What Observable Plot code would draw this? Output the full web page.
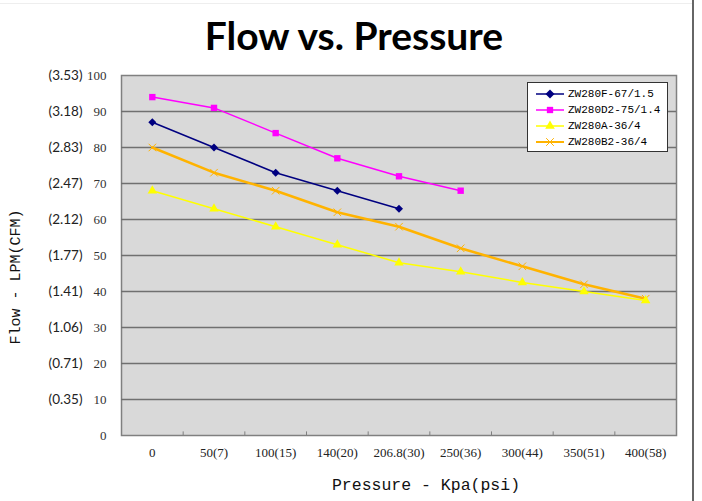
<!DOCTYPE html>
<html>
<head>
<meta charset="utf-8">
<script src="https://cdn.jsdelivr.net/npm/d3@7"></script>
<script src="https://cdn.jsdelivr.net/npm/@observablehq/plot@0.6"></script>
<style>
  html, body { margin: 0; padding: 0; background: #fff; }
  #wrap { position: relative; width: 702px; height: 501px; overflow: hidden; }
  #title { height: 60px; width: 702px; text-align: center; font-family: Lato, "Open Sans", sans-serif; font-weight: bold; font-size: 39px; color: #000; box-sizing: border-box; padding-left: 6px; padding-top: 8px; line-height: 54px; }
  #rightline { position: absolute; left: 692px; top: 0; width: 2px; height: 501px; background: #666; }
  #topline { position: absolute; left: 0; top: 3px; width: 692px; height: 1px; background: #eee; }
  #ytitle { position: absolute; left: 16px; top: 277px; transform: translate(-50%, -50%) rotate(-90deg); white-space: nowrap; font-family: "Liberation Mono", monospace; font-size: 15px; color: #111; }
  #legend { position: absolute; left: 527px; top: 82px; width: 139px; height: 68px; background: #fff; border: 1px solid #333; font-family: "Liberation Mono", monospace; font-size: 11px; color: #000; }
  .lrow { position: absolute; left: 8px; height: 16px; display: flex; align-items: center; }
  .lrow span { margin-left: 4px; }
</style>
</head>
<body>
<div id="wrap">
  <div id="topline"></div>
  <div id="title">Flow vs. Pressure</div>
  <div id="chart"></div>
  <div id="ytitle">Flow - LPM(CFM)</div>
  <div id="legend"></div>
  <div id="rightline"></div>
</div>
<script>
// ---- data ----
const pressureLabels = ["0", "50(7)", "100(15)", "140(20)", "206.8(30)", "250(36)", "300(44)", "350(51)", "400(58)"];
const lpmTicks = [0, 10, 20, 30, 40, 50, 60, 70, 80, 90, 100];
const cfmLabels = ["(0.35)", "(0.71)", "(1.06)", "(1.41)", "(1.77)", "(2.12)", "(2.47)", "(2.83)", "(3.18)", "(3.53)"];
const seriesNames = ["ZW280F-67/1.5", "ZW280D2-75/1.4", "ZW280A-36/4", "ZW280B2-36/4"];
const zw280F = [87, 80, 73, 68, 63];
const zw280D2 = [94, 91, 84, 77, 72, 68];
const zw280A = [68, 63, 58, 53, 48, 45.5, 42.5, 40, 37.5];
const zw280B2 = [80, 73, 68, 62, 58, 52, 47, 42, 38];
const seriesColors = ["#000080", "#ff00ff", "#ffff00", "#ffb300"];

// Excel-style diamond (rotated square)
const excelDiamond = {
  draw(context, size) {
    const r = Math.sqrt(size / 2);
    context.moveTo(0, -r); context.lineTo(r, 0); context.lineTo(0, r); context.lineTo(-r, 0); context.closePath();
  }
};
const seriesSymbols = [excelDiamond, d3.symbolSquare, d3.symbolTriangle, d3.symbolTimes];

const toRows = (vals) => vals.map((v, i) => ({i, v}));
const rowsF = toRows(zw280F), rowsD2 = toRows(zw280D2), rowsA = toRows(zw280A), rowsB2 = toRows(zw280B2);
const bounds = d3.range(pressureLabels.length + 1).map(k => k - 0.5);
const serif = "'Liberation Serif', serif";
const mono = "'Liberation Mono', monospace";

const chart = Plot.plot({
  width: 702,
  height: 441,
  marginTop: 15,
  marginBottom: 66,
  marginLeft: 121,
  marginRight: 26,
  x: {domain: [-0.5, pressureLabels.length - 0.5], axis: null},
  y: {domain: [0, 100], axis: null},
  marks: [
    Plot.frame({fill: "#d9d9d9", stroke: "#808080", strokeWidth: 1.5}),
    Plot.ruleY(lpmTicks.filter(t => t > 0 && t < 100), {stroke: "#707070", strokeWidth: 1.5}),
    Plot.ruleX(bounds, {y1: 0, y2: 1, stroke: "#808080"}),
    Plot.axisY({ticks: lpmTicks, tickSize: 0, tickPadding: 15, tickFormat: d => String(d), fontFamily: serif, fontSize: 13, color: "#333", label: null}),
    Plot.axisY({ticks: lpmTicks.slice(1), tickSize: 0, tickPadding: 39, tickFormat: d => cfmLabels[d / 10 - 1], fontFamily: "Lato, 'Open Sans', sans-serif", fontSize: 13.5, color: "#222", label: null}),
    Plot.axisX({ticks: d3.range(pressureLabels.length), tickSize: 0, tickPadding: 12, tickFormat: i => pressureLabels[i], fontFamily: serif, fontSize: 13, color: "#222", label: null}),
    Plot.text(["Pressure - Kpa(psi)"], {frameAnchor: "bottom", dy: 54, dx: 27, fontFamily: mono, fontSize: 16.5, fill: "#111"}),
    Plot.line(rowsB2, {x: "i", y: "v", stroke: seriesColors[3], strokeWidth: 2.5}),
    Plot.dot(rowsB2, {x: "i", y: "v", stroke: seriesColors[3], symbol: seriesSymbols[3], r: 3.5, strokeWidth: 1}),
    Plot.line(rowsA, {x: "i", y: "v", stroke: seriesColors[2], strokeWidth: 1.5}),
    Plot.dot(rowsA, {x: "i", y: "v", fill: seriesColors[2], symbol: seriesSymbols[2], r: 3.5}),
    Plot.line(rowsD2, {x: "i", y: "v", stroke: seriesColors[1], strokeWidth: 1.5}),
    Plot.dot(rowsD2, {x: "i", y: "v", fill: seriesColors[1], symbol: seriesSymbols[1], r: 3.6}),
    Plot.line(rowsF, {x: "i", y: "v", stroke: seriesColors[0], strokeWidth: 1.5}),
    Plot.dot(rowsF, {x: "i", y: "v", fill: seriesColors[0], symbol: seriesSymbols[0], r: 3.2})
  ]
});
document.getElementById("chart").appendChild(chart);

// ---- legend ----
const legend = document.getElementById("legend");
seriesNames.forEach((name, k) => {
  const row = document.createElement("div");
  row.className = "lrow";
  row.style.top = (3 + k * 16) + "px";
  const c = seriesColors[k];
  const isTimes = k === 3;
  const path = d3.symbol(seriesSymbols[k], 40)();
  row.innerHTML = `<svg width="28" height="12" viewBox="0 0 28 12"><line x1="0" x2="28" y1="6" y2="6" stroke="${c}" stroke-width="${isTimes ? 2 : 1.5}"/><path transform="translate(14,6)" d="${path}" ${isTimes ? `fill="none" stroke="${c}" stroke-width="1"` : `fill="${c}"`}/></svg><span>${name}</span>`;
  legend.appendChild(row);
});
</script>
</body>
</html>
